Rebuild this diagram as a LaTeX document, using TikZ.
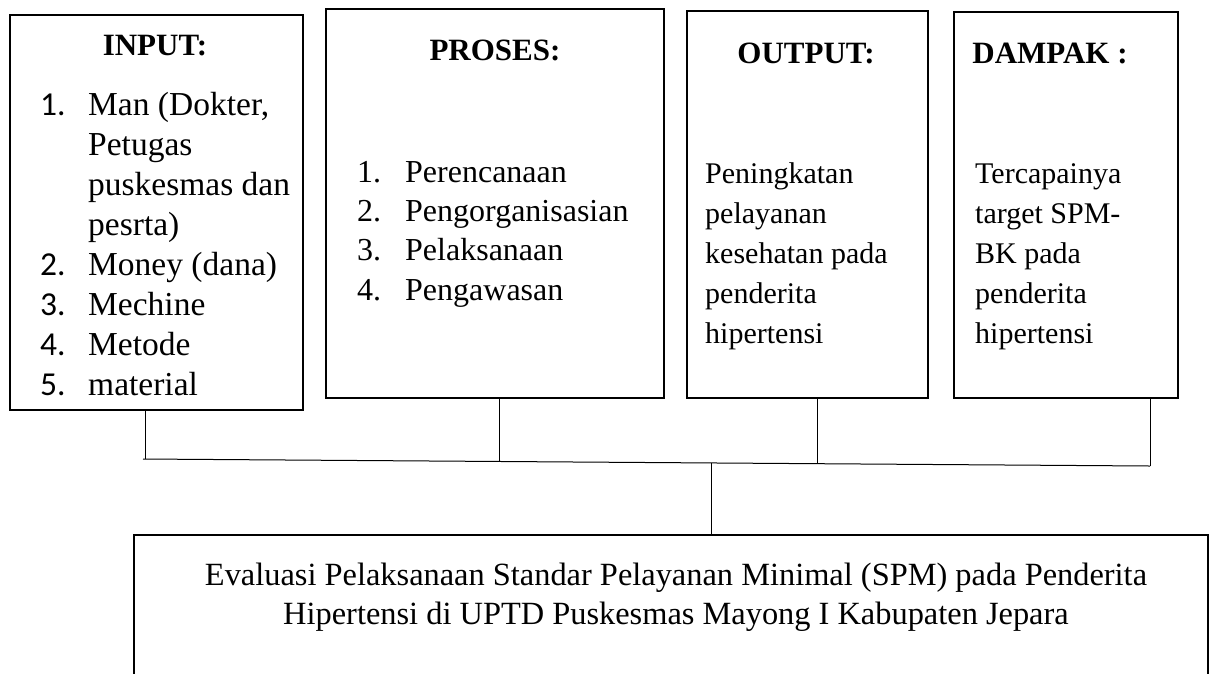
\documentclass[tikz,border=0pt]{standalone}
\usepackage{fontspec}
\setmainfont{Liberation Serif}
\newfontfamily\numfont{Carlito}
\begin{document}
\begin{tikzpicture}[x=1pt,y=-1pt,
  box/.style={draw=black, line width=2pt, inner sep=0pt, anchor=north west},
  conn/.style={draw=black, line width=1pt},
  txt/.style={anchor=base west, inner sep=0pt, font=\fontsize{31}{40}\selectfont},
  itxt/.style={txt, font=\fontsize{33.5}{40}\selectfont},
  ptxt/.style={txt, font=\fontsize{32}{40}\selectfont},
  otxt/.style={txt, font=\fontsize{30}{40}\selectfont},
  ttl/.style={anchor=base, inner sep=0pt, font=\fontsize{31}{40}\selectfont\bfseries},
  ctr/.style={anchor=base, inner sep=0pt, font=\fontsize{32.4}{40}\selectfont}]
\useasboundingbox (0,0) rectangle (1217,673);
\clip (0,0) rectangle (1217,673);
% boxes
\node[box, minimum width=293pt, minimum height=395pt] (inp) at (9,14) {};
\node[box, minimum width=338pt, minimum height=389pt] (pro) at (325,8) {};
\node[box, minimum width=241pt, minimum height=387pt] (out) at (686,10) {};
\node[box, minimum width=224pt, minimum height=386pt] (dam) at (953,11) {};
\node[box, minimum width=1074pt, minimum height=200pt] (eval) at (133,534) {};
% titles
\node[ttl] (tinp) at (155,55) {INPUT:};
\node[ttl] (tpro) at (495,60) {PROSES:};
\node[ttl] (tout) at (806,63) {OUTPUT:};
\node[ttl] (tdam) at (1050,63) {DAMPAK :};
% input list
\node[itxt] (n1) at (40,115) {\numfont 1.};
\node[itxt] (i1) at (88,115) {Man (Dokter,};
\node[itxt] (i2) at (88,155) {Petugas};
\node[itxt] (i3) at (88,195) {puskesmas dan};
\node[itxt] (i4) at (88,235) {pesrta)};
\node[itxt] (n2) at (40,275) {\numfont 2.};
\node[itxt] (i5) at (88,275) {Money (dana)};
\node[itxt] (n3) at (40,315) {\numfont 3.};
\node[itxt] (i6) at (88,315) {Mechine};
\node[itxt] (n4) at (40,355) {\numfont 4.};
\node[itxt] (i7) at (88,355) {Metode};
\node[itxt] (n5) at (40,395) {\numfont 5.};
\node[itxt] (i8) at (88,395) {material};
% proses list
\node[ptxt] (p1n) at (357,182) {1.};
\node[ptxt] (p1) at (405,182) {Perencanaan};
\node[ptxt] (p2n) at (357,221) {2.};
\node[ptxt] (p2) at (405,221) {Pengorganisasian};
\node[ptxt] (p3n) at (357,260) {3.};
\node[ptxt] (p3) at (405,260) {Pelaksanaan};
\node[ptxt] (p4n) at (357,300) {4.};
\node[ptxt] (p4) at (405,300) {Pengawasan};
% output
\node[otxt] (o1) at (705,183) {Peningkatan};
\node[otxt] (o2) at (705,223) {pelayanan};
\node[otxt] (o3) at (705,263) {kesehatan pada};
\node[otxt] (o4) at (705,303) {penderita};
\node[otxt] (o5) at (705,343) {hipertensi};
% dampak
\node[otxt] (d1) at (975,183) {Tercapainya};
\node[otxt] (d2) at (975,223) {target SPM-};
\node[otxt] (d3) at (975,263) {BK pada};
\node[otxt] (d4) at (975,303) {penderita};
\node[otxt] (d5) at (975,343) {hipertensi};
% evaluation text
\node[ctr] (e1) at (676,585) {Evaluasi Pelaksanaan Standar Pelayanan Minimal (SPM) pada Penderita};
\node[ctr] (e2) at (676,624) {Hipertensi di UPTD Puskesmas Mayong I Kabupaten Jepara};
% connectors
\coordinate (jl) at (143,459);
\coordinate (jr) at (1150,466);
\coordinate (j1) at (145,459);
\coordinate (j2) at (499,461.5);
\coordinate (j3) at (817,463.7);
\coordinate (jc) at (711,463);
\draw[conn] (jl) -- (jr);
\draw[conn] (inp.south -| j1) -- (j1);
\draw[conn] (pro.south -| j2) -- (j2);
\draw[conn] (out.south -| j3) -- (j3);
\draw[conn] (dam.south -| jr) -- (jr);
\draw[conn] (jc) -- (eval.north -| jc);
\end{tikzpicture}
\end{document}
